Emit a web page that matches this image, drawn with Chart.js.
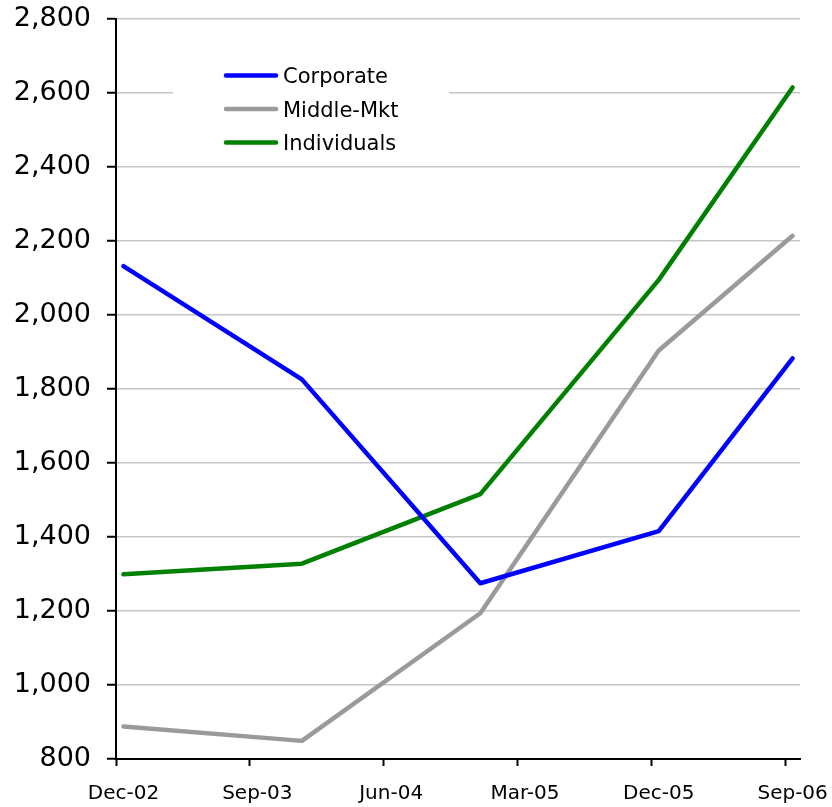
<!DOCTYPE html>
<html>
<head>
<meta charset="utf-8">
<script src="https://cdn.jsdelivr.net/npm/chart.js@4/dist/chart.umd.min.js"></script>
<style>
  html, body { margin: 0; padding: 0; background: #fff; }
  #wrap { width: 832px; height: 807px; }
</style>
</head>
<body>
<div id="wrap"><canvas id="c" width="832" height="807"></canvas></div>
<script>
// Reporting periods and values per segment
const periods = ['Dec-02', 'Dec-03', 'Dec-04', 'Dec-05', 'Sep-06'];
const corporate = [2132, 1826, 1275, 1416, 1883];
const middleMkt = [888, 849, 1194, 1904, 2214];
const individuals = [1299, 1328, 1516, 2095, 2615];

// Date-axis tick labels (every 9 months)
const axisLabels = ['Dec-02', 'Sep-03', 'Jun-04', 'Mar-05', 'Dec-05', 'Sep-06'];
const yMin = 800, yMax = 2800, yStep = 200;

const MONTHS = ['Jan','Feb','Mar','Apr','May','Jun','Jul','Aug','Sep','Oct','Nov','Dec'];
function monthNumber(label) {
  const [m, yy] = label.split('-');
  return (2000 + parseInt(yy, 10)) * 12 + MONTHS.indexOf(m);
}
const axisStart = monthNumber(axisLabels[0]);
// each month occupies one unit; points sit in the middle of their month
const monthPos = label => monthNumber(label) - axisStart + 0.5;
const axisEnd = monthNumber(axisLabels[axisLabels.length - 1]) - axisStart + 1;

const toPoints = values => periods.map((p, i) => ({ x: monthPos(p), y: values[i] }));

const FONT = '"DejaVu Sans", Verdana, sans-serif';

// Legend drawn inside the plot area on a white panel
const insetLegend = {
  id: 'insetLegend',
  afterDatasetsDraw(chart, args, o) {
    const ctx = chart.ctx;
    ctx.save();
    ctx.fillStyle = '#ffffff';
    ctx.fillRect(o.x, o.y, o.w, o.h);
    ctx.font = o.fontSize + 'px ' + FONT;
    ctx.textAlign = 'left';
    ctx.textBaseline = 'alphabetic';
    chart.data.datasets.forEach((ds, i) => {
      const cy = o.firstRow + i * o.rowGap;
      ctx.strokeStyle = ds.borderColor;
      ctx.lineWidth = 4.5;
      ctx.lineCap = 'round';
      ctx.beginPath();
      ctx.moveTo(o.lineX0, cy);
      ctx.lineTo(o.lineX1, cy);
      ctx.stroke();
      ctx.fillStyle = '#000';
      ctx.fillText(ds.label, o.textX, cy + o.fontSize * 0.365);
    });
    ctx.restore();
  }
};

const lineStyle = color => ({
  borderColor: color,
  backgroundColor: color,
  borderWidth: 4.5,
  pointRadius: 0,
  pointHoverRadius: 0,
  tension: 0,
  borderJoinStyle: 'round',
  borderCapStyle: 'round',
  fill: false
});

new Chart(document.getElementById('c'), {
  type: 'line',
  data: {
    datasets: [
      Object.assign({ label: 'Corporate', data: toPoints(corporate) }, lineStyle('#0000ff')),
      Object.assign({ label: 'Middle-Mkt', data: toPoints(middleMkt) }, lineStyle('#9a9a9a')),
      Object.assign({ label: 'Individuals', data: toPoints(individuals) }, lineStyle('#008000'))
    ]
  },
  plugins: [insetLegend],
  options: {
    responsive: false,
    animation: false,
    events: [],
    layout: { padding: { top: 19, right: 32, left: 0, bottom: 0 } },
    plugins: {
      legend: { display: false },
      tooltip: { enabled: false },
      insetLegend: {
        x: 173, y: 50, w: 276, h: 110,
        lineX0: 226, lineX1: 276, textX: 283,
        firstRow: 75.5, rowGap: 33.5, fontSize: 21
      }
    },
    scales: {
      x: {
        type: 'linear',
        min: 0,
        max: axisEnd,
        afterBuildTicks: s => { s.ticks = axisLabels.map(l => ({ value: monthNumber(l) - axisStart })); },
        afterFit: s => { s.height = 48; s.paddingLeft = 0; s.paddingRight = 0; },
        ticks: {
          callback: v => axisLabels.find(l => monthNumber(l) - axisStart === v) || '',
          font: { family: FONT, size: 20 },
          color: '#000',
          padding: 16,
          labelOffset: 7.5,
          maxRotation: 0,
          autoSkip: false
        },
        grid: {
          drawOnChartArea: false,
          drawTicks: true,
          tickLength: 7,
          tickColor: '#000',
          tickWidth: 2
        },
        border: { display: true, color: '#000', width: 2 }
      },
      y: {
        min: yMin,
        max: yMax,
        afterFit: s => { s.width = 116; s.paddingTop = 0; s.paddingBottom = 0; },
        ticks: {
          stepSize: yStep,
          callback: v => v.toLocaleString('en-US'),
          font: { family: FONT, size: 27 },
          color: '#000',
          padding: 16
        },
        grid: {
          color: '#c6c6c6',
          lineWidth: 1.5,
          drawTicks: true,
          tickLength: 9,
          tickColor: '#000',
          tickWidth: 2
        },
        border: { display: true, color: '#000', width: 2 }
      }
    }
  }
});
</script>
</body>
</html>
